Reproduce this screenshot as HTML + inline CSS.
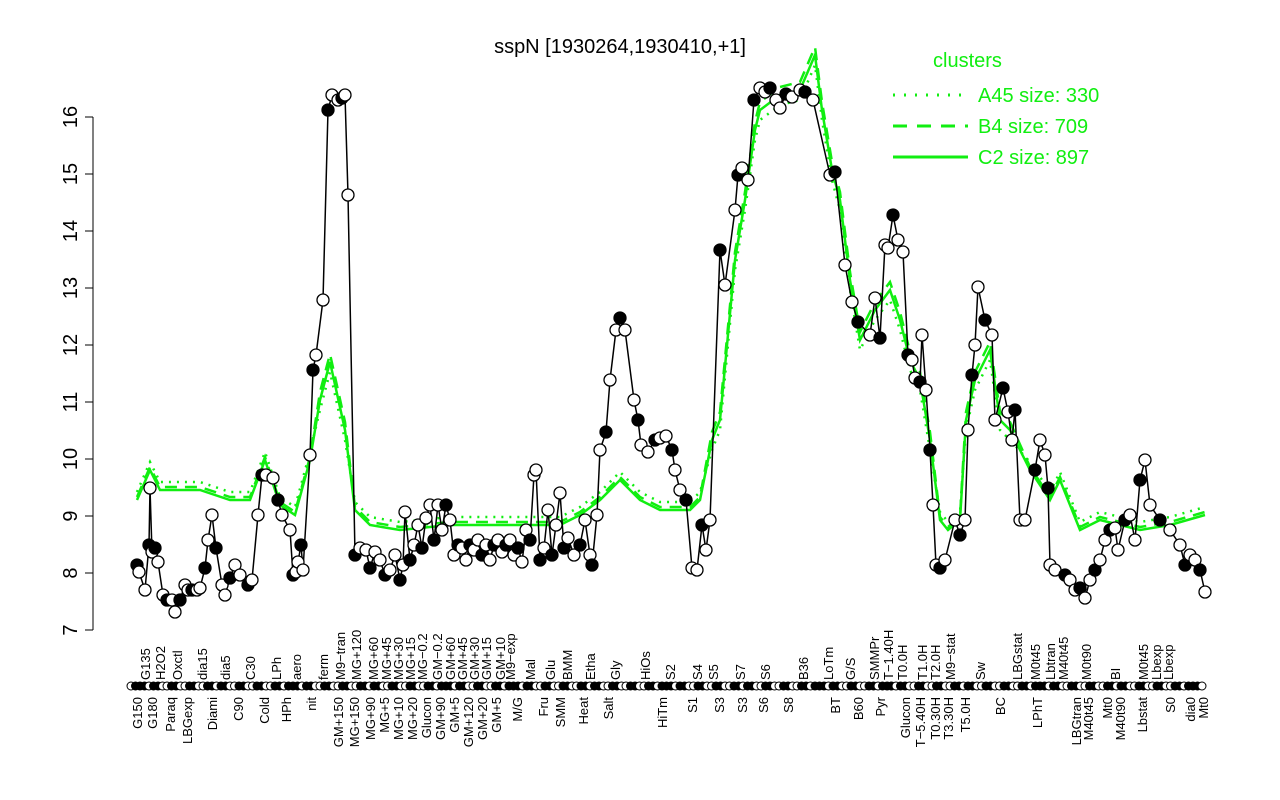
<!DOCTYPE html>
<html><head><meta charset="utf-8"><style>
body{margin:0;background:#fff}
svg{display:block;font-family:"Liberation Sans",sans-serif}
</style></head><body>
<svg id="s" width="1280" height="800" xmlns="http://www.w3.org/2000/svg">
<rect width="1280" height="800" fill="#fff"/>
<text x="620" y="53" font-size="20" text-anchor="middle">sspN [1930264,1930410,+1]</text>
<line x1="93" y1="117" x2="93" y2="630" stroke="#000"/>
<g id="yax" font-size="20" text-anchor="middle"></g>
<g id="green"></g>
<g id="black"></g>
<g id="bot"></g>
<g font-size="20">
<text x="933" y="67" fill="#11ee11">clusters</text>
<line x1="893" y1="95" x2="968" y2="95" stroke="#11ee11" stroke-width="3" stroke-dasharray="2,9"/>
<text x="978" y="102" fill="#11ee11">A45 size: 330</text>
<line x1="893" y1="126" x2="968" y2="126" stroke="#11ee11" stroke-width="3" stroke-dasharray="14,10"/>
<text x="978" y="133" fill="#11ee11">B4 size: 709</text>
<line x1="893" y1="157" x2="968" y2="157" stroke="#11ee11" stroke-width="3"/>
<text x="978" y="164" fill="#11ee11">C2 size: 897</text>
</g>
</svg>
<script>
const NS="http://www.w3.org/2000/svg";
function el(p,t,a,txt){const e=document.createElementNS(NS,t);for(const k in a)e.setAttribute(k,a[k]);if(txt)e.textContent=txt;p.appendChild(e);return e;}
const Y=v=>630-57*(v-7);
const yax=document.getElementById('yax');
for(let v=7;v<=16;v++){const y=Y(v);el(yax,'line',{x1:85,y1:y,x2:93,y2:y,stroke:'#000'});
 el(yax,'text',{x:0,y:0,transform:`translate(77,${y}) rotate(-90)`},String(v));}
const pts=[[137,565],[139,572],[145,590],[149,545],[150,488],[152,552],[155,548],[158,562],[163,595],[167,600],[172,600],[175,612],[180,600],[185,585],[188,590],[192,590],[197,590],[200,588],[205,568],[208,540],[212,515],[216,548],[222,585],[225,595],[230,578],[235,565],[240,575],[248,585],[252,580],[258,515],[262,475],[266,475],[273,478],[278,500],[282,515],[290,530],[293,575],[296,572],[298,562],[301,545],[303,570],[310,455],[313,370],[316,355],[323,300],[328,110],[332,95],[338,100],[342,98],[345,95],[348,195],[355,555],[360,548],[366,550],[370,568],[375,552],[380,560],[385,575],[390,570],[395,555],[400,580],[403,565],[405,512],[410,560],[414,545],[418,525],[422,548],[426,518],[430,505],[434,540],[438,505],[442,530],[446,505],[450,520],[454,555],[458,545],[462,548],[466,560],[470,545],[474,550],[478,540],[482,555],[486,545],[490,560],[494,545],[498,540],[502,552],[506,545],[510,540],[514,555],[518,548],[522,562],[526,530],[530,540],[534,475],[536,470],[540,560],[544,548],[548,510],[552,555],[556,525],[560,493],[564,548],[568,538],[574,555],[580,545],[585,520],[590,555],[592,565],[597,515],[600,450],[606,432],[610,380],[616,330],[620,318],[625,330],[634,400],[638,420],[641,445],[648,452],[655,440],[660,438],[666,436],[672,450],[675,470],[680,490],[686,500],[692,568],[697,570],[702,525],[706,550],[710,520],[720,250],[725,285],[735,210],[738,175],[742,168],[748,180],[754,100],[760,88],[765,92],[770,88],[776,100],[780,108],[786,94],[792,97],[800,90],[805,92],[813,100],[830,175],[835,172],[845,265],[852,302],[858,322],[870,335],[875,298],[880,338],[885,245],[888,248],[893,215],[898,240],[903,252],[908,355],[912,360],[915,378],[920,382],[922,335],[926,390],[930,450],[933,505],[936,565],[940,568],[945,560],[955,520],[960,535],[965,520],[968,430],[972,375],[975,345],[978,287],[985,320],[992,335],[995,420],[1003,388],[1008,412],[1012,440],[1015,410],[1020,520],[1025,520],[1035,470],[1040,440],[1045,455],[1048,488],[1050,565],[1055,570],[1065,575],[1070,580],[1075,590],[1080,588],[1085,598],[1090,580],[1095,570],[1100,560],[1105,540],[1110,530],[1115,528],[1118,550],[1125,520],[1130,515],[1135,540],[1140,480],[1145,460],[1150,505],[1160,520],[1170,530],[1180,545],[1185,565],[1190,555],[1195,560],[1200,570],[1205,592]];
const gp=[[137,500],[150,470],[160,490],[200,490],[230,500],[250,500],[265,460],[280,505],[295,515],[310,460],[320,400],[330,362],[345,430],[355,510],[370,525],[400,530],[450,525],[500,525],[540,525],[560,525],[580,515],[600,500],[620,480],[640,500],[660,510],[690,510],[700,500],[712,440],[720,420],[735,260],[745,200],[755,130],[760,110],[780,95],[800,90],[815,55],[822,110],[832,170],[840,200],[850,280],[860,340],[875,310],[890,290],[900,320],[910,360],[920,380],[930,440],[940,520],[948,530],[960,520],[966,420],[975,380],[990,350],[1000,420],[1010,430],[1030,470],[1050,500],[1060,480],[1080,530],[1100,520],[1140,530],[1170,525],[1205,515]];
const g=document.getElementById('green');
const toP=a=>a.map(p=>p.join(',')).join(' ');
el(g,'polyline',{points:toP(gp.map(p=>[p[0],p[1]+(p[1]<450?10:-8)])),fill:'none',stroke:'#11ee11','stroke-width':2.5,'stroke-dasharray':'2,6'});
el(g,'polyline',{points:toP(gp.map(p=>[p[0],p[1]-(p[1]<450?8:3)])),fill:'none',stroke:'#11ee11','stroke-width':2.5,'stroke-dasharray':'12,8'});
el(g,'polyline',{points:toP(gp),fill:'none',stroke:'#11ee11','stroke-width':2.5});
const b=document.getElementById('black');
el(b,'polyline',{points:toP(pts),fill:'none',stroke:'#000','stroke-width':1.5});
pts.forEach((p,i)=>{const f=((i*7)%3)==0;el(b,'circle',{cx:p[0],cy:p[1],r:6,fill:f?'#000':'#fff',stroke:'#000','stroke-width':1.3});});
const bot=document.getElementById('bot');
for(let x=131;x<=1205;x+=4.5){const f=Math.sin(x*0.37)>-0.2;el(bot,'circle',{cx:x,cy:686,r:4,fill:f?'#000':'#fff',stroke:'#000','stroke-width':1});}
const up=[[145,'G135'],[160,'H2O2'],[177,'Oxctl'],[202,'dia15'],[225,'dia5'],[250,'C30'],[276,'LPh'],[296,'aero'],[323,'ferm'],[340,'M9−tran'],[356,'MG+120'],[373,'MG+60'],[386,'MG+45'],[398,'MG+30'],[410,'MG+15'],[422,'MG−0.2'],[437,'GM−0.2'],[450,'GM+60'],[462,'GM+45'],[474,'GM+30'],[486,'GM+15'],[500,'GM+10'],[510,'M9−exp'],[530,'Mal'],[550,'Glu'],[567,'BMM'],[590,'Etha'],[615,'Gly'],[645,'HiOs'],[670,'S2'],[697,'S4'],[713,'S5'],[740,'S7'],[765,'S6'],[803,'B36'],[828,'LoTm'],[850,'G/S'],[874,'SMMPr'],[888,'T−1.40H'],[902,'T0.0H'],[922,'T1.0H'],[935,'T2.0H'],[950,'M9−stat'],[980,'Sw'],[1017,'LBGstat'],[1035,'M0t45'],[1050,'Lbtran'],[1063,'M40t45'],[1086,'M0t90'],[1115,'BI'],[1143,'M0t45'],[1156,'Lbexp'],[1168,'Lbexp']];
const lo=[[137,'G150'],[152,'G180'],[170,'Paraq'],[187,'LBGexp'],[212,'Diami'],[238,'C90'],[264,'Cold'],[286,'HPh'],[311,'nit'],[338,'GM+150'],[354,'MG+150'],[370,'MG+90'],[384,'MG+5'],[398,'MG+10'],[412,'MG+20'],[426,'Glucon'],[440,'GM+90'],[454,'GM+5'],[468,'GM+120'],[482,'GM+20'],[496,'GM+5'],[517,'M/G'],[543,'Fru'],[560,'SMM'],[583,'Heat'],[608,'Salt'],[662,'HiTm'],[692,'S1'],[719,'S3'],[742,'S3'],[763,'S6'],[788,'S8'],[835,'BT'],[858,'B60'],[880,'Pyr'],[905,'Glucon'],[920,'T−5.40H'],[935,'T0.30H'],[948,'T3.30H'],[965,'T5.0H'],[1000,'BC'],[1037,'LPhT'],[1076,'LBGtran'],[1088,'M40t45'],[1107,'Mt0'],[1120,'M40t90'],[1142,'Lbstat'],[1170,'S0'],[1190,'dia0'],[1203,'Mt0']];
up.forEach(([x,t])=>el(bot,'text',{x:0,y:0,'font-size':13,'text-anchor':'start',transform:`translate(${x+5},680) rotate(-90)`},t));
lo.forEach(([x,t])=>el(bot,'text',{x:0,y:0,'font-size':13,'text-anchor':'end',transform:`translate(${x+5},697) rotate(-90)`},t));
</script>
</body></html>
